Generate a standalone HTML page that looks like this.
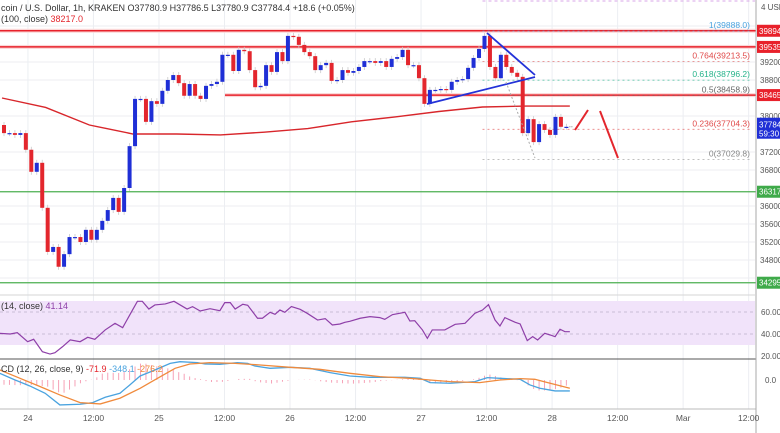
<!DOCTYPE html>
<html><head><meta charset="utf-8"><style>
html,body{margin:0;padding:0;background:#fff;width:780px;height:433px;overflow:hidden}
svg{display:block;font-family:"Liberation Sans",sans-serif}
</style></head><body>
<svg id="c" width="780" height="433" viewBox="0 0 780 433" xmlns="http://www.w3.org/2000/svg"></svg>
<script>
// ---- data ----
const firstOpen = 37800;
const closes = [37620,37620,37580,37620,37250,36760,36960,35960,34980,35090,34650,34930,35310,35310,35200,35470,35250,35470,35670,35910,36180,35870,36400,37330,38380,38380,37870,38330,38270,38560,38800,38910,38730,38450,38710,38450,38380,38670,38710,38760,39360,39360,39000,39470,39440,39020,38640,38670,39130,38980,39420,39220,39780,39760,39580,39420,39330,39020,39130,39180,38780,38800,39020,38960,39000,39090,39220,39220,39180,39220,39090,39270,39310,39470,39130,39130,38840,38270,38580,38580,38600,38580,38760,38800,38820,39070,39290,39490,39780,39090,38840,39360,39090,38960,38870,37620,37930,37420,37820,37690,37580,37980,37760,37760];
const maHours = [0,8,16,24,32,40,48,56,64,72,80,88,96,104];
const maVals = [38400,38190,37800,37600,37600,37580,37640,37720,37870,37980,38100,38200,38220,38220];
const priceTicks = [39200,38800,38000,37200,36800,36000,35600,35200,34800];
const levels = [39894,39535,38465,36317,34295];
const fibRatios = ["1","0.764","0.618","0.5","0.236","0"];
const fibPrices = [39888.0,39213.5,38796.2,38458.9,37704.3,37029.8];
const rsiHours = [-0.4,1.5,2.8,4.7,5.8,7.4,8.8,9.7,11.1,12.5,14.3,15.7,17.0,18.9,20.7,22.1,23.9,24.8,25.7,26.9,28.0,29.9,31.5,33.9,34.9,36.3,38.1,39.9,40.8,41.8,42.7,44.1,45.0,46.8,47.7,49.1,50.0,50.9,51.8,53.0,54.6,55.9,57.8,59.2,60.5,61.9,62.8,63.7,65.6,67.4,69.2,70.1,71.5,73.8,74.7,75.6,77.0,77.9,78.8,81.1,83.0,84.8,86.6,88.0,89.1,90.3,91.2,92.1,94.0,94.9,96.2,97.2,98.1,99.4,100.4,101.3,102.2,103.1,104.0];
const rsiVals = [40.6,40.0,41.2,33.0,35.2,23.9,21.8,23.0,28.5,34.6,33.0,37.0,35.2,43.7,49.7,45.8,61.8,69.7,69.7,62.7,66.4,67.3,69.7,62.7,64.9,60.9,63.0,61.2,68.5,68.5,62.7,67.0,66.1,54.3,54.3,59.7,57.9,61.8,59.7,64.9,62.4,58.8,52.7,54.0,48.2,49.1,50.6,51.5,54.3,55.8,54.9,53.3,57.6,59.7,51.8,52.1,43.7,36.1,43.7,43.7,48.8,49.7,58.8,61.8,66.7,52.7,47.3,54.9,50.6,49.1,34.0,37.6,34.6,40.6,39.1,37.6,44.3,42.1,42.1];
const macdHours = [-0.4,2.4,5.1,7.9,10.6,14.3,16.6,18.9,21.6,23.4,25.3,28.0,30.8,32.6,35.8,37.2,39.9,43.1,45.0,46.3,49.1,52.8,56.4,60.1,63.7,67.4,71.1,73.8,76.6,78.4,82.1,86.6,88.9,91.2,94.9,96.7,98.5,101.3,104.0];
const macdVals = [212,1,-189,-420,-789,-768,-715,-547,-420,-157,127,317,527,580,549,506,496,549,527,443,370,401,370,233,127,85,85,85,54,-83,-104,-52,75,54,22,-157,-262,-346,-346];
const sigHours = [-0.4,3.3,7.0,10.6,14.3,18.0,21.6,25.3,29.0,31.7,34.4,38.1,42.7,47.3,52.8,58.2,63.7,69.2,74.7,78.4,82.1,87.5,91.2,94.9,97.6,100.4,104.0];
const sigVals = [317,54,-210,-473,-715,-757,-578,-262,106,370,506,549,527,475,401,338,212,106,54,1,-52,-83,1,43,22,-104,-262];
const timeLabels = ["24","12:00","25","12:00","26","12:00","27","12:00","28","12:00","Mar","12:00"];
const timeLabelHours = [4.75,16.75,28.75,40.75,52.75,64.75,76.75,88.75,100.75,112.75,124.75,136.75];

// ---- axes ----
const X = h => 2 + h*5.46;
const Y = p => 62 + (39200-p)*0.045;
const RY = v => 334 - (v-40)*1.1;
const MY = v => 380 - v*0.0316;
const svg = document.getElementById('c');
const NS = 'http://www.w3.org/2000/svg';
function mk(tag, attrs, parent){const e=document.createElementNS(NS,tag);for(const k in attrs)e.setAttribute(k,attrs[k]);(parent||svg).appendChild(e);return e;}
function txt(s,attrs){const e=mk('text',attrs);e.textContent=s;return e;}
function interp(hs,vs,h){if(h<=hs[0])return vs[0];for(let i=1;i<hs.length;i++){if(h<=hs[i]){const t=(h-hs[i-1])/(hs[i]-hs[i-1]);return vs[i-1]+t*(vs[i]-vs[i-1]);}}return vs[vs.length-1];}

// grid
const grid = mk('g',{});


timeLabelHours.forEach(h=>mk('line',{x1:X(h),y1:0,x2:X(h),y2:409,stroke:'#eceef2','stroke-width':1},grid));
priceTicks.forEach(p=>mk('line',{x1:0,y1:Y(p),x2:755,y2:Y(p),stroke:'#eceef2','stroke-width':1},grid));
mk('line',{x1:0,y1:Y(40000),x2:755,y2:Y(40000),stroke:'#eceef2'},grid);
mk('line',{x1:0,y1:Y(34400),x2:755,y2:Y(34400),stroke:'#eceef2'},grid);

// RSI pane
const rsiBand = mk('rect',{x:0,y:RY(70),width:755,height:RY(30)-RY(70),fill:'#f1e3fa'});


[60,40].forEach(v=>mk('line',{x1:0,y1:RY(v),x2:755,y2:RY(v),stroke:'#c9bcd6','stroke-dasharray':'3,3'}));
mk('line',{x1:0,y1:295,x2:755,y2:295,stroke:'#d6d6d6'});
mk('line',{x1:0,y1:359,x2:780,y2:359,stroke:'#555',"stroke-width":1});
mk('line',{x1:0,y1:409,x2:780,y2:409,stroke:'#bbb'});
const rsiLine = mk('polyline',{points:rsiHours.map((h,i)=>X(h)+','+RY(rsiVals[i])).join(' '),fill:'none',stroke:'#8e3fa8','stroke-width':1.2});



// MACD
for(let i=0;i<closes.length;i++){
  const d=(interp(macdHours,macdVals,i)-interp(sigHours,sigVals,i))*1.4;
  const b=mk('line',{x1:X(i)+2,y1:MY(0),x2:X(i)+2,y2:MY(d),stroke:'#f6a1b6','stroke-width':1});
  
  
}
const macdL = mk('polyline',{points:macdHours.map((h,i)=>X(h)+','+MY(macdVals[i])).join(' '),fill:'none',stroke:'#4aa3df','stroke-width':1.3});


const sigL = mk('polyline',{points:sigHours.map((h,i)=>X(h)+','+MY(sigVals[i])).join(' '),fill:'none',stroke:'#f08a3c','stroke-width':1.3});



// horizontal levels
levels.forEach((p,i)=>{
  const green = p<37000;
  const x1 = p===38465?225:0;
  if(!green) mk('rect',{x:x1,y:Y(p)-2,width:755-x1,height:4,fill:'#fbd6d6'});
  const l=mk('line',{x1:x1,y1:Y(p),x2:780,y2:Y(p),stroke:green?'#4caf50':'#e8212b','stroke-width':green?1.2:1.5});
  
  
});

// fib
mk('line',{x1:X(88),y1:1,x2:755,y2:1,stroke:'#d9a6e8','stroke-dasharray':'3,3'});
const fibColors=['#4aa3df','#e04a4a','#26b38a','#666','#e04a4a','#888'];
fibPrices.forEach((p,i)=>{
  mk('line',{x1:X(88),y1:Y(p),x2:752,y2:Y(p),stroke:fibColors[i],'stroke-dasharray':'2,3','stroke-width':0.8,opacity:0.7});
  const t=txt(fibRatios[i]+'('+p.toFixed(1)+')',{x:750,y:Y(p)-3,'text-anchor':'end','font-size':8.5,fill:fibColors[i]});
  
  
});

// MA100
const ma = mk('polyline',{points:maHours.map((h,i)=>X(h)+','+Y(maVals[i])).join(' '),fill:'none',stroke:'#d8262b','stroke-width':1.4});



// candles
let prev = firstOpen;
closes.forEach((c,i)=>{
  const o=prev; prev=c;
  const up=c>=o; const col=up?'#1f2fd6':'#e3262d';
  const top=Math.min(Y(o),Y(c)), bot=Math.max(Y(o),Y(c));
  const g=mk('g',{});
  
  
  mk('line',{x1:X(i)+2,y1:top-3,x2:X(i)+2,y2:bot+3,stroke:'#c8c8c8','stroke-width':0.8},g);
  mk('rect',{x:X(i),y:top,width:4,height:Math.max(1.2,bot-top),fill:col},g);
});
mk('line',{x1:X(103)+5,y1:Y(37760),x2:X(103)+9,y2:Y(37760),stroke:'#888','stroke-dasharray':'1,1'});

// drawings
const tri=mk('g',{});


mk('line',{x1:427,y1:104,x2:535,y2:77,stroke:'#2332d8','stroke-width':1.8},tri);
mk('line',{x1:487,y1:33,x2:535,y2:75,stroke:'#2332d8','stroke-width':1.8},tri);
mk('line',{x1:506,y1:82,x2:535,y2:158,stroke:'#aaa','stroke-dasharray':'2,2'},tri);
const arr=mk('g',{});


mk('line',{x1:575,y1:130,x2:588,y2:110,stroke:'#e3262d','stroke-width':2},arr);
mk('line',{x1:600,y1:111,x2:618,y2:158,stroke:'#e3262d','stroke-width':2},arr);

// right axis
mk('rect',{x:756,y:0,width:24,height:433,fill:'#fff'});
mk('line',{x1:756,y1:0,x2:756,y2:433,stroke:'#aaa'});
txt('4 USD',{x:761,y:10,'font-size':8,fill:'#555'});
priceTicks.forEach(p=>{const t=txt(String(p),{x:760,y:Y(p)+3,'font-size':8,fill:'#555'});
  
  });
levels.forEach(p=>{
  const green=p<37000;
  mk('rect',{x:757,y:Y(p)-6,width:23,height:12,fill:green?'#3faa4a':'#e8212b'});
  const t=txt(String(p),{x:759,y:Y(p)+3,'font-size':8,fill:'#fff'});
  
  
});
mk('rect',{x:757,y:Y(37784)-8,width:23,height:21,fill:'#1f2fd6'});
txt('37784',{x:759,y:Y(37784)+2,'font-size':8,fill:'#fff'});
txt('59:30',{x:759,y:Y(37784)+11,'font-size':8,fill:'#fff'});
[[60,'60.00'],[40,'40.00'],[20,'20.00']].forEach(a=>txt(a[1],{x:761,y:RY(a[0])+3,'font-size':8,fill:'#555'}));
txt('0.0',{x:765,y:MY(0)+3,'font-size':8,fill:'#555'});

// time axis
timeLabels.forEach((s,i)=>{const t=txt(s,{x:X(timeLabelHours[i]),y:421,'text-anchor':'middle','font-size':8.5,fill:'#555'});
  
  });

// legends
const h1=txt('',{x:1,y:11,'font-size':9,fill:'#333'});


h1.textContent='coin / U.S. Dollar, 1h, KRAKEN   O37780.9  H37786.5  L37780.9  C37784.4  +18.6 (+0.05%)';
const h2=mk('text',{x:1,y:22,'font-size':9,fill:'#333'});


h2.innerHTML='(100, close)  <tspan fill="#e3262d">38217.0</tspan>';
const h3=mk('text',{x:1,y:309,'font-size':9,fill:'#333'});


h3.innerHTML='(14, close)  <tspan fill="#8e3fa8">41.14</tspan>';
const h4=mk('text',{x:1,y:372,'font-size':9,fill:'#333'});


h4.innerHTML='CD (12, 26, close, 9)  <tspan fill="#e3262d">-71.9</tspan>  <tspan fill="#4aa3df">-348.1</tspan>  <tspan fill="#f08a3c">-276.2</tspan>';
</script>
</body></html>
